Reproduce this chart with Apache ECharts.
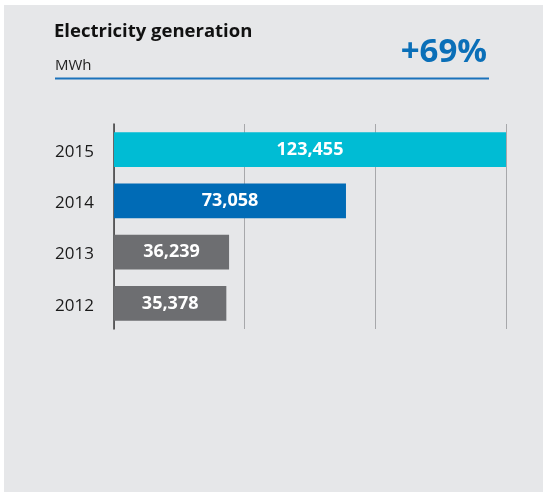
<!DOCTYPE html>
<html>
<head>
<meta charset="utf-8">
<script src="https://cdn.jsdelivr.net/npm/echarts@6/dist/echarts.min.js"></script>
<style>
html,body{margin:0;padding:0;background:#ffffff;}
#chart{width:543px;height:492px;}
</style>
</head>
<body>
<div id="chart"></div>
<script>
const years = ['2012', '2013', '2014', '2015'];
const generation = [35378, 36239, 73058, 123455];
const titleText = 'Electricity generation';
const unitText = 'MWh';
const changeText = '+69%';
const barColors = ['#6d6e71', '#6d6e71', '#006bb6', '#00bcd4'];

const maxVal = generation[generation.length - 1];
const chart = echarts.init(document.getElementById('chart'));
const fontFam = '"Open Sans", "Noto Sans", sans-serif';

chart.setOption({
  backgroundColor: '#ffffff',
  animation: false,
  graphic: [
    { type: 'rect', left: 4, top: 5, shape: { width: 539, height: 487 }, style: { fill: '#e6e7e9' }, z: -10 },
    { type: 'text', left: 54, top: 22, style: { text: titleText, font: 'bold 18.5px ' + fontFam, fill: '#111111' } },
    { type: 'text', left: 55, top: 58, style: { text: unitText, font: '15px ' + fontFam, fill: '#222222' } },
    { type: 'text', right: 56, top: 36, style: { text: changeText, font: 'bold 33px ' + fontFam, fill: '#0a6fb8' } },
    { type: 'line', shape: { x1: 55, y1: 78.5, x2: 489, y2: 78.5 }, style: { stroke: '#1a72bb', lineWidth: 2 } }
  ],
  grid: { left: 114, right: 37, top: 124, bottom: 163, containLabel: false },
  xAxis: {
    type: 'value',
    min: 0,
    max: maxVal,
    interval: maxVal / 3,
    axisLabel: { show: false },
    axisTick: { show: false },
    axisLine: { show: false },
    splitLine: { show: true, lineStyle: { color: '#a7a8ab', width: 1 } }
  },
  yAxis: {
    type: 'category',
    data: years,
    axisTick: { show: false },
    axisLine: { show: true, lineStyle: { color: '#3c3c3c', width: 1.5 } },
    axisLabel: { color: '#1a1a1a', fontSize: 17, fontFamily: fontFam, margin: 20, verticalAlign: 'top', padding: [-6, 0, 0, 0] }
  },
  series: [{
    type: 'bar',
    data: generation.map((v, i) => ({ value: v, itemStyle: { color: barColors[i] } })),
    barCategoryGap: '32%',
    label: {
      show: true,
      position: 'inside',
      color: '#ffffff',
      fontWeight: 'bold',
      fontSize: 18,
      fontFamily: fontFam,
      formatter: p => p.value.toLocaleString('en-US')
    }
  }]
});
</script>
</body>
</html>
